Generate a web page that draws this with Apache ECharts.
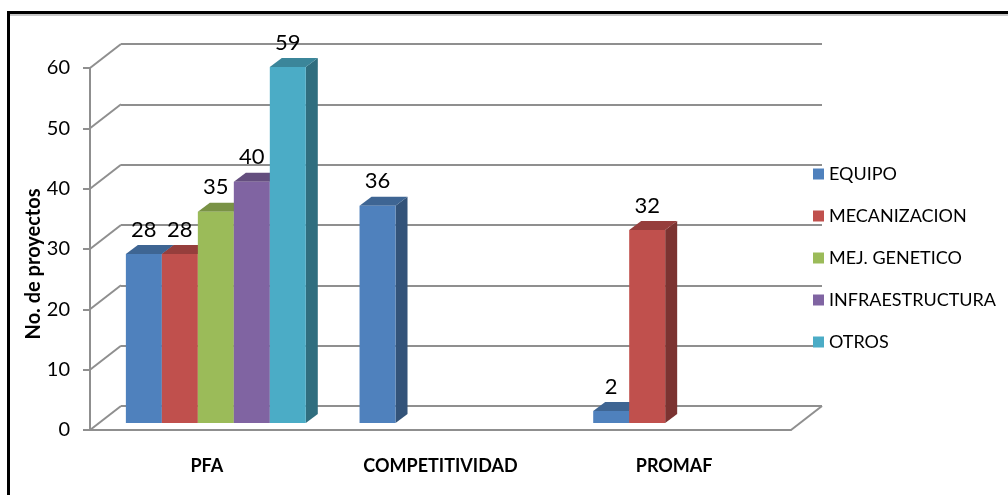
<!DOCTYPE html>
<html>
<head>
<meta charset="utf-8">
<title>No. de proyectos por programa</title>
<script src="https://cdn.jsdelivr.net/npm/echarts@6/dist/echarts.min.js"></script>
<style>
  html, body { margin: 0; padding: 0; background: #fff; }
  #chart { width: 1008px; height: 495px; }
</style>
</head>
<body>
<div id="chart"></div>
<script>
// Data
const categories = ['PFA', 'COMPETITIVIDAD', 'PROMAF'];
const seriesNames = ['EQUIPO', 'MECANIZACION', 'MEJ. GENETICO', 'INFRAESTRUCTURA', 'OTROS'];
const equipo = [28, 36, 2];
const mecanizacion = [28, null, 32];
const mejGenetico = [35, null, null];
const infraestructura = [40, null, null];
const otros = [59, null, null];
const yTicks = [0, 10, 20, 30, 40, 50, 60];

const seriesValues = [equipo, mecanizacion, mejGenetico, infraestructura, otros];
const seriesColors = ['#4F81BD', '#C0504D', '#9BBB59', '#8064A2', '#4BACC6'];

// Oblique projection of the chart floor/walls
const WALL_DX = 31, WALL_DY = -24;          // front plane -> back wall
const BAR_FRONT_DX = 9, BAR_FRONT_DY = -7;   // front plane -> bar front face
const BAR_DEPTH_DX = 12, BAR_DEPTH_DY = -9;  // bar front face -> bar back
const BAR_RATIO = 0.154;                     // bar width as part of a category band
const GRID = { left: 90, right: 217, top: 68, bottom: 65 };
const FONT = 'Lato, "Liberation Sans", sans-serif';
const LINE_GRAY = '#8f8f8f';

function shade(hex, f) {
  const n = parseInt(hex.slice(1), 16);
  const r = Math.round(((n >> 16) & 255) * f);
  const g = Math.round(((n >> 8) & 255) * f);
  const b = Math.round((n & 255) * f);
  return 'rgb(' + r + ',' + g + ',' + b + ')';
}

function barSeries(name, values, slot, color) {
  const data = values.map((v, i) => [i, v]).filter(d => d[1] != null);
  return {
    type: 'custom',
    name: name,
    xAxisIndex: 0,
    yAxisIndex: 0,
    z: 5,
    itemStyle: { color: color },
    data: data,
    renderItem: function (params, api) {
      const cat = api.value(0);
      const v = api.value(1);
      const base = api.coord([cat, 0]);
      const top = api.coord([cat, v]);
      const band = api.size([1, 0])[0];
      const w = band * BAR_RATIO;
      const x0 = base[0] + (slot - seriesNames.length / 2) * w + BAR_FRONT_DX;
      const x1 = x0 + w;
      const yb = base[1] + BAR_FRONT_DY;
      const yt = top[1] + BAR_FRONT_DY;
      return {
        type: 'group',
        children: [
          {
            type: 'polygon',
            shape: { points: [[x1, yb], [x1 + BAR_DEPTH_DX, yb + BAR_DEPTH_DY], [x1 + BAR_DEPTH_DX, yt + BAR_DEPTH_DY], [x1, yt]] },
            style: { fill: shade(color, 0.64) }
          },
          {
            type: 'polygon',
            shape: { points: [[x0, yt], [x1, yt], [x1 + BAR_DEPTH_DX, yt + BAR_DEPTH_DY], [x0 + BAR_DEPTH_DX, yt + BAR_DEPTH_DY]] },
            style: { fill: shade(color, 0.78) }
          },
          {
            type: 'rect',
            shape: { x: x0, y: yt, width: w, height: yb - yt },
            style: { fill: color }
          },
          {
            type: 'text',
            x: x0 + w / 2,
            y: yt - 24.5,
            style: {
              text: String(v),
              fill: '#000',
              font: '22px ' + FONT,
              align: 'center',
              verticalAlign: 'middle'
            }
          }
        ]
      };
    }
  };
}

// Side wall diagonals and the right edge of the floor
const frameSeries = {
  type: 'custom',
  name: 'frame',
  xAxisIndex: 0,
  yAxisIndex: 0,
  z: 1,
  silent: true,
  data: yTicks.map(v => [0, v]),
  renderItem: function (params, api) {
    const cs = params.coordSys;
    const p = api.coord([0, api.value(1)]);
    const children = [{
      type: 'line',
      shape: { x1: cs.x, y1: p[1], x2: cs.x + WALL_DX, y2: p[1] + WALL_DY },
      style: { stroke: LINE_GRAY, lineWidth: 2 }
    }];
    if (api.value(1) === 0) {
      children.push({
        type: 'line',
        shape: { x1: cs.x + cs.width, y1: p[1], x2: cs.x + cs.width + WALL_DX, y2: p[1] + WALL_DY },
        style: { stroke: LINE_GRAY, lineWidth: 2 }
      });
    }
    return { type: 'group', children: children };
  }
};

const chart = echarts.init(document.getElementById('chart'), null, { renderer: 'canvas' });

chart.setOption({
  animation: false,
  backgroundColor: '#fff',
  textStyle: { fontFamily: FONT },
  graphic: [
    {
      type: 'line',
      shape: { x1: 10, y1: 15, x2: 1008, y2: 15 },
      style: { stroke: '#b5b5b5', lineWidth: 1.5 },
      z: 99
    },
    {
      type: 'rect',
      shape: { x: 8.5, y: 12.5, width: 1200, height: 600 },
      style: { fill: null, stroke: '#000', lineWidth: 3 },
      z: 100
    }
  ],
  legend: {
    orient: 'vertical',
    left: 808,
    top: 160,
    itemWidth: 11,
    itemHeight: 11,
    itemGap: 24,
    icon: 'rect',
    data: seriesNames,
    textStyle: { fontSize: 18, lineHeight: 18, color: '#000', fontFamily: FONT }
  },
  grid: [
    { left: GRID.left, right: GRID.right, top: GRID.top, bottom: GRID.bottom },
    {
      left: GRID.left + WALL_DX, right: GRID.right - WALL_DX,
      top: GRID.top + WALL_DY, bottom: GRID.bottom - WALL_DY
    }
  ],
  xAxis: [
    {
      type: 'category',
      gridIndex: 0,
      data: categories,
      axisLine: { lineStyle: { color: LINE_GRAY, width: 2 } },
      axisTick: { length: 6, lineStyle: { color: LINE_GRAY, width: 2 } },
      axisLabel: { margin: 27, fontSize: 18, fontWeight: 'bold', color: '#000', fontFamily: FONT },
      splitLine: { show: false }
    },
    { type: 'category', gridIndex: 1, data: categories, show: false }
  ],
  yAxis: [
    {
      type: 'value',
      gridIndex: 0,
      min: 0,
      max: 60,
      interval: 10,
      name: 'No. de proyectos',
      nameLocation: 'middle',
      nameGap: 46,
      nameMoveOverlap: false,
      nameTextStyle: { fontSize: 20, fontWeight: 'bold', color: '#000', fontFamily: FONT, padding: [0, 30, 0, 0] },
      axisLine: { show: true, lineStyle: { color: LINE_GRAY, width: 2 } },
      axisTick: { show: true, length: 7, lineStyle: { color: LINE_GRAY, width: 2 } },
      axisLabel: { margin: 20, fontSize: 20, color: '#000', fontFamily: FONT },
      splitLine: { show: false }
    },
    {
      type: 'value',
      gridIndex: 1,
      min: 0,
      max: 60,
      interval: 10,
      axisLine: { show: false },
      axisTick: { show: false },
      axisLabel: { show: false },
      splitLine: { show: true, lineStyle: { color: LINE_GRAY, width: 2 } }
    }
  ],
  series: [frameSeries].concat(
    seriesNames.map((n, i) => barSeries(n, seriesValues[i], i, seriesColors[i]))
  )
});
</script>
</body>
</html>
